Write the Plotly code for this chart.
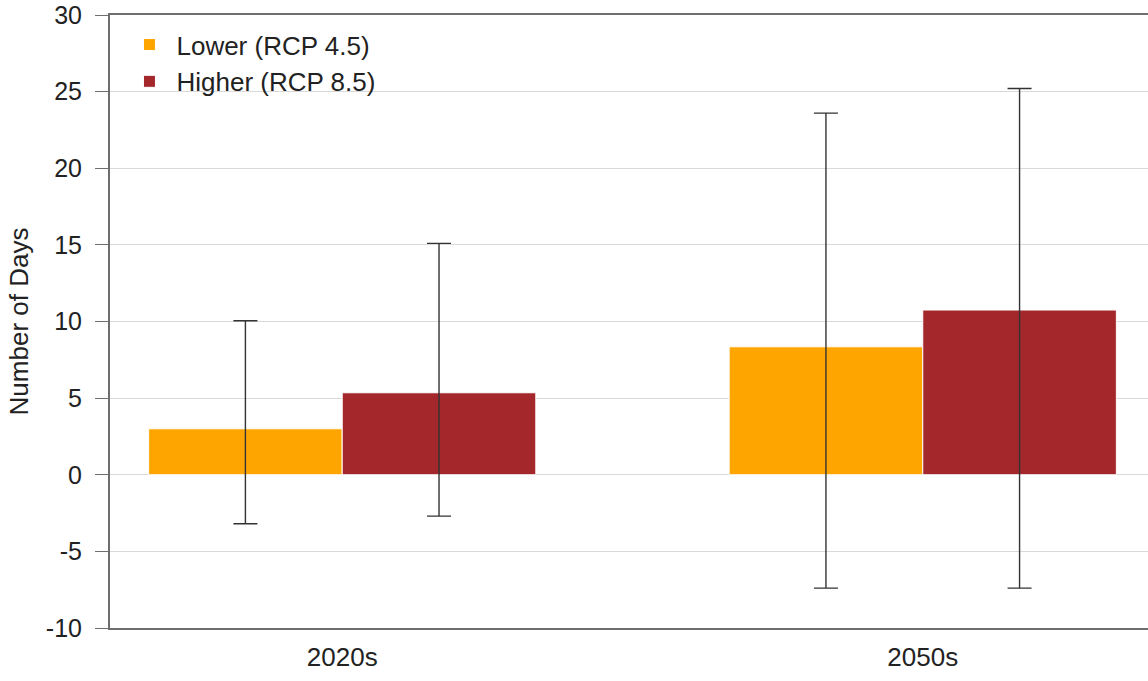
import plotly.graph_objects as go

# Days per year, projected change (bars) with model range (whiskers)
periods = ['2020s', '2050s']
lower_mean = [3.0, 8.35]
lower_min = [-3.2, -7.4]
lower_max = [10.05, 23.6]
higher_mean = [5.35, 10.75]
higher_min = [-2.7, -7.4]
higher_max = [15.1, 25.2]
y_ticks = [-10, -5, 0, 5, 10, 15, 20, 25, 30]
y_labels = ['-10', '-5', '0', '5', '10', '15', '20', '25', '30']

err_style = dict(type='data', symmetric=False, color='#333333', thickness=1.4, width=12)

fig = go.Figure()
fig.add_trace(go.Bar(
    x=periods, y=lower_mean, name='Lower (RCP 4.5)',
    marker=dict(color='#ffa500', line=dict(color='#ffffff', width=1)),
    error_y=dict(array=[h - m for h, m in zip(lower_max, lower_mean)],
                 arrayminus=[m - l for l, m in zip(lower_min, lower_mean)], **err_style),
))
fig.add_trace(go.Bar(
    x=periods, y=higher_mean, name='Higher (RCP 8.5)',
    marker=dict(color='#a4282b', line=dict(color='#ffffff', width=1)),
    error_y=dict(array=[h - m for h, m in zip(higher_max, higher_mean)],
                 arrayminus=[m - l for l, m in zip(higher_min, higher_mean)], **err_style),
))

fig.update_layout(
    width=1148, height=681,
    margin=dict(l=110, r=0, t=15, b=53),
    paper_bgcolor='white', plot_bgcolor='white',
    font=dict(family='Liberation Sans, Arial, sans-serif', size=24, color='#222222'),
    barmode='group', bargap=0.333, bargroupgap=0,
    showlegend=True,
    legend=dict(x=0.012, y=0.99, xanchor='left', yanchor='top',
                bgcolor='rgba(0,0,0,0)', font=dict(size=26), itemwidth=44,
                tracegroupgap=0),
)
fig.update_xaxes(
    type='category', range=[-0.4, 1.388],
    showline=True, linecolor='#6e6e6e', linewidth=2, mirror=True,
    showgrid=False, ticks='', tickfont=dict(size=26), ticklabelstandoff=5,
)
fig.update_yaxes(
    range=[-10, 30], tickvals=y_ticks, ticktext=y_labels,
    showline=True, linecolor='#6e6e6e', linewidth=2,
    showgrid=True, gridcolor='#d9d9d9', gridwidth=1,
    zeroline=False, layer='above traces',
    ticks='outside', ticklen=13, tickcolor='#6e6e6e', tickwidth=1,
    tickfont=dict(size=25), ticklabelstandoff=8,
    title=dict(text='Number of Days', font=dict(size=26), standoff=10),
)

fig.write_html("out.html", config={'displayModeBar': False},
               post_script="document.body.style.margin='0';")
